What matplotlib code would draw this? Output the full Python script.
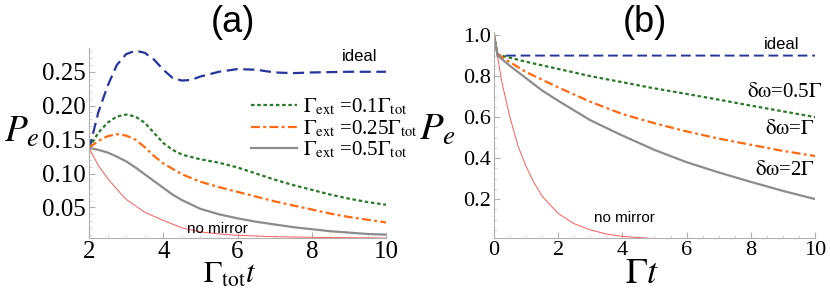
import matplotlib
matplotlib.use('Agg')
import matplotlib.pyplot as plt

plt.rcParams['font.family'] = ['Liberation Serif', 'DejaVu Serif']
plt.rcParams['mathtext.fontset'] = 'stix'

# panel (a): P_e vs Gamma_tot t
xa_ideal = [2, 2.25, 2.5, 2.75, 3, 3.25, 3.5, 3.75, 4, 4.25, 4.5, 4.75, 5, 5.5, 6, 6.5, 7, 7.5, 8, 9, 10]
ya_ideal = [0.135, 0.19, 0.229, 0.26, 0.276, 0.281, 0.278, 0.268, 0.253, 0.241, 0.237, 0.238, 0.243, 0.25,
            0.254, 0.253, 0.249, 0.248, 0.249, 0.25, 0.25]
xa_01 = [2, 2.25, 2.5, 2.75, 3, 3.25, 3.5, 3.75, 4, 4.25, 4.5, 5, 5.5, 6, 6.5, 7, 7.5, 8, 8.5, 9, 9.5, 10]
ya_01 = [0.138, 0.16, 0.175, 0.184, 0.187, 0.184, 0.175, 0.16, 0.145, 0.135, 0.128, 0.121, 0.116, 0.109,
         0.1, 0.091, 0.083, 0.076, 0.069, 0.063, 0.058, 0.054]
xa_025 = [2, 2.25, 2.5, 2.75, 3, 3.25, 3.5, 3.75, 4, 4.5, 5, 5.5, 6, 6.5, 7, 7.5, 8, 8.5, 9, 9.5, 10]
ya_025 = [0.138, 0.148, 0.155, 0.158, 0.156, 0.15, 0.139, 0.126, 0.115, 0.099, 0.088, 0.08, 0.073, 0.066,
          0.059, 0.053, 0.047, 0.041, 0.036, 0.032, 0.028]
xa_05 = [2, 2.25, 2.5, 2.75, 3, 3.25, 3.5, 3.75, 4, 4.25, 4.5, 5, 5.5, 6, 6.5, 7, 7.5, 8, 8.5, 9, 9.5, 10]
ya_05 = [0.138, 0.135, 0.131, 0.125, 0.118, 0.109, 0.099, 0.089, 0.079, 0.069, 0.061, 0.048, 0.04, 0.034,
         0.029, 0.025, 0.021, 0.018, 0.015, 0.013, 0.011, 0.01]
xa_nm = [2, 2.25, 2.5, 2.75, 3, 3.5, 4, 4.5, 5, 5.5, 6, 7, 8, 10]
ya_nm = [0.138, 0.112, 0.093, 0.077, 0.062, 0.043, 0.031, 0.02, 0.014, 0.011, 0.009, 0.007, 0.006, 0.005]

# panel (b): P_e vs Gamma t
xb_ideal = [0, 0.12, 10]
yb_ideal = [1.0, 0.9, 0.9]
xb_05 = [0, 0.12, 1, 2, 3, 4, 5, 6, 7, 8, 9, 10]
yb_05 = [1.0, 0.905, 0.87, 0.835, 0.8, 0.77, 0.74, 0.713, 0.685, 0.656, 0.628, 0.6]
xb_1 = [0, 0.12, 1, 2, 3, 4, 5, 6, 7, 8, 9, 10]
yb_1 = [1.0, 0.905, 0.82, 0.745, 0.675, 0.615, 0.57, 0.53, 0.495, 0.465, 0.435, 0.41]
xb_2 = [0, 0.12, 0.5, 1, 1.5, 2, 3, 4, 5, 6, 7, 8, 9, 10]
yb_2 = [1.0, 0.9, 0.85, 0.79, 0.73, 0.68, 0.585, 0.51, 0.44, 0.38, 0.33, 0.284, 0.24, 0.2]
xb_nm = [0, 0.25, 0.5, 0.75, 1, 1.25, 1.5, 2, 2.5, 3, 3.5, 4, 5, 6, 8, 10]
yb_nm = [1.0, 0.77, 0.6, 0.46, 0.36, 0.28, 0.215, 0.13, 0.08, 0.05, 0.03, 0.018, 0.007, 0.003, 0.0, 0.0]

BLUE = '#28349c'
GREEN = '#2b7a2b'
ORANGE = '#ff6a10'
GREY = '#8c8c8c'
RED = '#ff5a5a'
AXC = '#b0b0b0'


def style_axes(ax, size):
    for s in ['top', 'right']:
        ax.spines[s].set_visible(False)
    for s in ['left', 'bottom']:
        ax.spines[s].set_color(AXC)
        ax.spines[s].set_linewidth(0.8)
    ax.tick_params(which='major', direction='in', length=4, color=AXC, labelsize=size, pad=2)
    ax.tick_params(which='minor', direction='in', length=2, color='#d0d0d0')


fig = plt.figure(figsize=(8.3, 2.91), dpi=100)

ax1 = fig.add_axes([0.1072, 0.182, 0.358, 0.653])
ax1.plot(xa_nm, ya_nm, color=RED, lw=0.7)
ax1.plot(xa_ideal, ya_ideal, color=BLUE, lw=1.6, dashes=(5, 2.5))
l1, = ax1.plot(xa_01, ya_01, color=GREEN, lw=1.6, dashes=(1.6, 1.2))
l2, = ax1.plot(xa_025, ya_025, color=ORANGE, lw=1.6, dashes=(4, 1.5, 1.3, 1.5))
l3, = ax1.plot(xa_05, ya_05, color=GREY, lw=1.6)
ax1.set_xlim(2, 10)
ax1.set_ylim(0.005, 0.285)
ax1.set_xticks([2, 4, 6, 8, 10])
ax1.set_yticks([0.05, 0.10, 0.15, 0.20, 0.25])
ax1.set_yticklabels(['0.05', '0.10', '0.15', '0.20', '0.25'])
ax1.set_xticks([2.5, 3, 3.5, 4.5, 5, 5.5, 6.5, 7, 7.5, 8.5, 9, 9.5], minor=True)
ax1.set_yticks([0.01 * k for k in range(1, 29) if k % 5 != 0], minor=True)
style_axes(ax1, 18)
ax1.legend([l1, l2, l3],
           [r'$\Gamma_{\mathrm{ext}}$ =0.1$\Gamma_{\mathrm{tot}}$',
            r'$\Gamma_{\mathrm{ext}}$ =0.25$\Gamma_{\mathrm{tot}}$',
            r'$\Gamma_{\mathrm{ext}}$ =0.5$\Gamma_{\mathrm{tot}}$'],
           loc='upper left', bbox_to_anchor=(0.51, 0.8), frameon=False, fontsize=15,
           handlelength=2.2, handletextpad=0.3, labelspacing=0.05, borderpad=0)
ax1.text(9.3, 0.272, 'ideal', family='Liberation Sans', fontsize=12, ha='center', va='center')
ax1.text(5.45, 0.019, 'no mirror', family='Liberation Sans', fontsize=11, ha='center', va='center')

ax2 = fig.add_axes([0.595, 0.182, 0.387, 0.708])
ax2.plot(xb_nm, yb_nm, color=RED, lw=0.7)
ax2.plot(xb_ideal, yb_ideal, color=BLUE, lw=1.4, dashes=(5, 2.5))
ax2.plot(xb_05, yb_05, color=GREEN, lw=1.6, dashes=(1.6, 1.2))
ax2.plot(xb_1, yb_1, color=ORANGE, lw=1.6, dashes=(4, 1.5, 1.3, 1.5))
ax2.plot(xb_2, yb_2, color=GREY, lw=1.6)
ax2.set_xlim(0, 10)
ax2.set_ylim(0.01, 1.015)
ax2.set_xticks([0, 2, 4, 6, 8, 10])
ax2.set_yticks([0.2, 0.4, 0.6, 0.8, 1.0])
ax2.set_xticks([0.5 * k for k in range(1, 20) if k % 4 != 0], minor=True)
ax2.set_yticks([0.05 * k for k in range(1, 20) if k % 4 != 0], minor=True)
style_axes(ax2, 16)
ax2.text(8.97, 0.956, 'ideal', family='Liberation Sans', fontsize=12, ha='center', va='center')
ax2.text(9.07, 0.72, r'$\mathrm{\delta\omega}$=0.5$\Gamma$', fontsize=15, ha='center', va='center')
ax2.text(9.2, 0.54, r'$\mathrm{\delta\omega}$=$\Gamma$', fontsize=15, ha='center', va='center')
ax2.text(9.07, 0.34, r'$\mathrm{\delta\omega}$=2$\Gamma$', fontsize=15, ha='center', va='center')
ax2.text(4.08, 0.11, 'no mirror', family='Liberation Sans', fontsize=11, ha='center', va='center')

# titles and axis labels
fig.text(233 / 830, 1 - 22 / 291, '(a)', family='Liberation Sans', fontsize=26, ha='center', va='center')
fig.text(645 / 830, 1 - 22 / 291, '(b)', family='Liberation Sans', fontsize=26, ha='center', va='center')
fig.text(4 / 830, 1 - 142 / 291, r'$P_e$', fontsize=27, ha='left', va='baseline')
fig.text(419 / 830, 1 - 140 / 291, r'$P_e$', fontsize=28, ha='left', va='baseline')
fig.text(230 / 830, 1 - 283 / 291, r'$\Gamma_{\mathrm{tot}}t$', fontsize=22, ha='center', va='baseline')
fig.text(642 / 830, 1 - 283 / 291, r'$\Gamma t$', fontsize=26, ha='center', va='baseline')

fig.savefig('out.png', dpi=100)
